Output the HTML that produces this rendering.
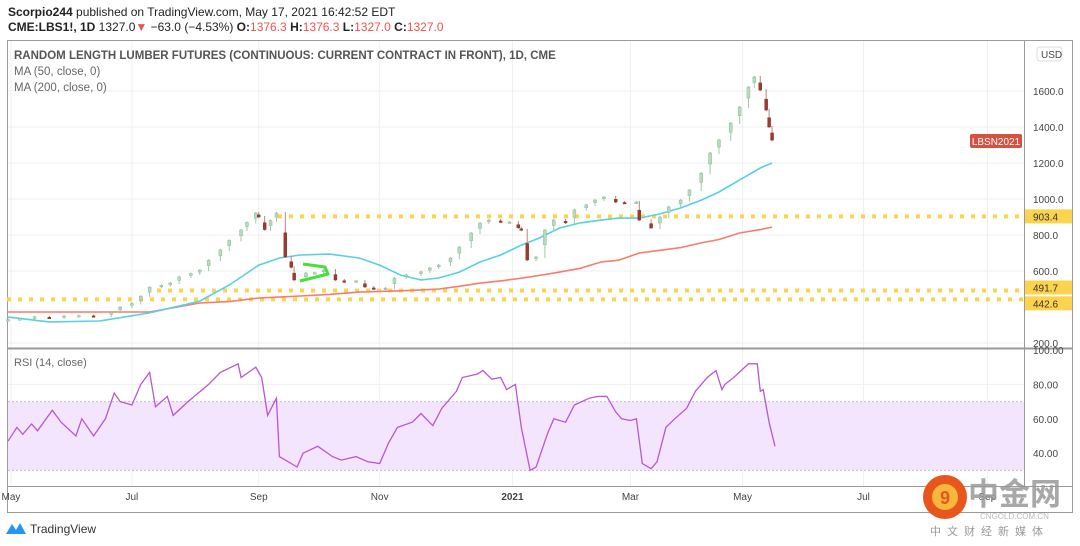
<!DOCTYPE html>
<html><head><meta charset="utf-8"><style>
html,body{margin:0;padding:0;background:#fff;}
svg{display:block;font-family:"Liberation Sans","Noto Sans CJK SC",sans-serif;}
</style></head><body>
<svg id="c" width="1080" height="546" viewBox="0 0 1080 546" xmlns="http://www.w3.org/2000/svg">
<text x="8" y="16" font-size="12" fill="#222"><tspan font-weight="bold">Scorpio244</tspan> published on TradingView.com, May 17, 2021 16:42:52 EDT</text>
<text x="8" y="31" font-size="12" fill="#222"><tspan font-weight="bold">CME:LBS1!, 1D</tspan> 1327.0<tspan fill="#ef5350">▼</tspan> −63.0 (−4.53%) <tspan font-weight="bold">O:</tspan><tspan fill="#ef5350">1376.3</tspan> <tspan font-weight="bold">H:</tspan><tspan fill="#ef5350">1376.3</tspan> <tspan font-weight="bold">L:</tspan><tspan fill="#ef5350">1327.0</tspan> <tspan font-weight="bold">C:</tspan><tspan fill="#ef5350">1327.0</tspan></text>
<rect x="7.5" y="40.5" width="1065" height="472" fill="none" stroke="#9a9a9a"/>
<g id="grid"></g>
<g id="price"></g>
<g id="rsi"></g>
<g id="axes"></g>
<text x="14" y="59" font-size="11.5" font-weight="bold" fill="#555">RANDOM LENGTH LUMBER FUTURES (CONTINUOUS: CURRENT CONTRACT IN FRONT), 1D, CME</text>
<text x="14" y="75" font-size="11.5" fill="#666">MA (50, close, 0)</text>
<text x="14" y="91" font-size="11.5" fill="#666">MA (200, close, 0)</text>
<text x="14" y="366" font-size="11" fill="#666">RSI (14, close)</text>
<g>
<path d="M6 534 L12 524 L16 530 L20 523 L26 534 Z" fill="#2196f3"/>
<text x="30" y="533" font-size="12" fill="#333">TradingView</text>
</g>
<g>
<circle cx="945" cy="497" r="22" fill="#e8561e"/>
<circle cx="945" cy="497" r="13" fill="#f6b73c"/>
<text x="945" y="504" font-size="18" font-weight="bold" fill="#e8561e" text-anchor="middle">9</text>
<text x="968" y="505" font-size="31" font-weight="bold" fill="#9a9a9a" opacity="0.85">中金网</text>
<text x="980" y="519" font-size="8" fill="#bbb">CNGOLD.COM.CN</text>
<text x="930" y="535" font-size="11" fill="#999" letter-spacing="6">中文财经新媒体</text>
</g>
</svg>
<script>
// ---- data ----
var candleDays=[0,4,9,14,19,24,29,35,38,42,45,48,52,55,58,62,65,68,72,75,79,81,84,85,87,89,91,94,96,97,101,104,107,111,114,118,121,124,128,131,135,140,143,146,150,153,157,160,163,167,170,173,174,176,179,182,185,189,192,196,199,202,206,209,213,214,218,221,224,228,231,235,238,241,245,248,251,253,255,257,258,259];
var closes=[330,335,345,340,350,352,350,370,400,420,460,510,520,533,567,585,605,660,717,770,828,870,922,900,830,880,922,678,620,550,589,590,605,550,540,545,511,500,505,561,578,595,617,633,672,733,811,867,883,872,872,840,828,661,678,828,883,867,939,967,994,1011,983,978,983,883,839,900,956,994,1050,1144,1256,1328,1422,1511,1622,1678,1605,1494,1400,1327];
var maDays=[0,14,31,48,65,75,85,92,99,109,119,126,133,140,146,153,160,167,174,180,187,194,201,207,214,221,228,235,241,248,255,259];
var ma50=[344,317,322,367,433,522,633,672,689,694,672,633,578,550,561,594,650,689,744,783,839,867,883,894,894,917,950,994,1039,1106,1172,1200];
var ma200=[372,372,372,372,422,430,450,455,461,470,483,486,490,495,500,515,533,545,560,575,594,615,650,660,700,715,730,756,775,811,830,844];
var rsiDays=[0,3,5,8,10,15,18,23,25,29,33,36,38,42,45,48,50,54,56,61,68,72,78,79,84,86,88,91,92,98,100,105,110,113,118,122,126,129,132,137,140,144,147,152,154,159,161,164,167,169,172,174,177,179,183,185,189,192,197,200,203,206,208,211,213,215,218,220,223,226,230,233,237,240,242,243,246,251,254,255,256,258,260];
var rsiVals=[47,55,51,57,53,65,58,50,60,50,60,75,70,68,80,87,67,73,62,70,80,87,92,84,90,84,62,72,38,32,40,44,38,36,38,35,34,46,55,58,63,56,66,76,84,86,88,83,84,77,80,55,30,32,52,60,58,68,72,73,73,64,60,59,60,34,31,35,55,60,66,76,84,88,77,80,84,92,92,76,77,58,44];
var priceTicks=[1600,1400,1200,1000,800,600,200];
var rsiTicks=[80,60,40];
var monthLabels=["May","Jul","Sep","Nov","2021","Mar","May","Jul","Sep"];
var monthDays=[1,42,85,126,171,211,249,290,332];
var hLines=[903.4,491.7,442.6];
// ---- scales ----
function X(d){return 8+d*2.95;}
function PY(v){return 91+(1600-v)*0.18;}
function RY(v){return 350+(100-v)*1.72;}
var NS="http://www.w3.org/2000/svg";
function mk(tag,attrs,parent){var e=document.createElementNS(NS,tag);for(var k in attrs)e.setAttribute(k,attrs[k]);parent.appendChild(e);return e;}
var grid=document.getElementById('grid'),price=document.getElementById('price'),rsi=document.getElementById('rsi'),axes=document.getElementById('axes');
monthDays.forEach(function(d){var l=mk('line',{x1:X(d),x2:X(d),y1:41,y2:486,stroke:'#efefef'},grid);

});
priceTicks.forEach(function(v){var l=mk('line',{x1:8,x2:1024,y1:PY(v),y2:PY(v),stroke:'#efefef'},grid);

});
rsiTicks.forEach(function(v){var l=mk('line',{x1:8,x2:1024,y1:RY(v),y2:RY(v),stroke:'#efefef'},grid);

});
var s1=mk('line',{x1:8,x2:1073,y1:348.5,y2:348.5,stroke:'#999','stroke-width':2},axes);


var s2=mk('line',{x1:8,x2:1073,y1:486.5,y2:486.5,stroke:'#999'},axes);


var s3=mk('line',{x1:1024.5,x2:1024.5,y1:41,y2:486,stroke:'#999'},axes);


var hStart=[278,157,7];
hLines.forEach(function(v,i){var l=mk('line',{x1:hStart[i],x2:1024,y1:PY(v),y2:PY(v),stroke:'#fcd34d','stroke-width':4,'stroke-dasharray':'4 7'},price);

});
function path(days,vals,yf){return days.map(function(d,i){return (i?'L':'M')+X(d).toFixed(1)+' '+yf(vals[i]).toFixed(1);}).join(' ');}
var m200=mk('path',{d:path(maDays,ma200,PY),fill:'none',stroke:'#f77c6b','stroke-width':1.6},price);


var m50=mk('path',{d:path(maDays,ma50,PY),fill:'none',stroke:'#56d0e4','stroke-width':1.6},price);


closes.forEach(function(c,i){var prev=i?closes[i-1]:c-5;var o=prev+(c-prev)*0.45;var up=c>=o;
var hi=Math.max(prev,c)+6,lo=Math.min(prev,c)-6;
var x=X(candleDays[i]);
var g=mk('g',{},price);


mk('line',{x1:x,x2:x,y1:PY(hi),y2:PY(lo),stroke:up?'#9cc9a6':'#b9837d','stroke-width':1},g);
var top=PY(Math.max(o,c)),h=Math.max(1.5,PY(Math.min(o,c))-top);
mk('rect',{x:x-1.5,y:top,width:3,height:h,fill:up?'#b5dcbd':'#9b3a30',stroke:up?'#7fae8d':'#8b2a20','stroke-width':0.4},g);});
var tri=mk('polyline',{points:'303,264 325,267 328,274 300,281',fill:'none',stroke:'#45e03a','stroke-width':3,'stroke-linejoin':'round'},price);


var band=mk('rect',{x:8,y:RY(70),width:1016,height:RY(30)-RY(70),fill:'#f3e5fd'},rsi);


[70,30].forEach(function(v){var l=mk('line',{x1:8,x2:1024,y1:RY(v),y2:RY(v),stroke:'#c8b8d0','stroke-dasharray':'2 2'},rsi);

});
var rl=mk('path',{d:path(rsiDays,rsiVals,RY),fill:'none',stroke:'#b857d2','stroke-width':1.3},rsi);


priceTicks.forEach(function(v){var t=mk('text',{x:1033,y:PY(v)+4,'font-size':10,fill:'#444'},axes);t.textContent=v.toFixed(1);

});
rsiTicks.forEach(function(v){var t=mk('text',{x:1033,y:RY(v)+4,'font-size':10,fill:'#444'},axes);t.textContent=v.toFixed(2);

});
var t100=mk('text',{x:1033,y:354,'font-size':10,fill:'#444'},axes);t100.textContent='100.00';


var labelShift=[0,-3,4];
hLines.forEach(function(v,i){var g=mk('g',{},axes);


var cy=PY(v)+labelShift[i];
mk('rect',{x:1025,y:cy-7,width:47,height:14,fill:'#fcd34d'},g);
var t=mk('text',{x:1033,y:cy+4,'font-size':10,fill:'#333'},g);t.textContent=v.toFixed(1);});
var usd=mk('g',{},axes);


mk('rect',{x:1037,y:47,width:25,height:14,rx:3,fill:'#fff',stroke:'#ddd'},usd);
var ut=mk('text',{x:1041,y:58,'font-size':10,fill:'#444'},usd);ut.textContent='USD';
var lb=mk('g',{},axes);


mk('rect',{x:970,y:134,width:52,height:14,rx:2,fill:'#d9503f'},lb);
var lt=mk('text',{x:996,y:145,'font-size':10,fill:'#fff','text-anchor':'middle'},lb);lt.textContent='LBSN2021';
monthLabels.forEach(function(m,i){var t=mk('text',{x:X(monthDays[i]),y:500,'font-size':10,fill:'#444','text-anchor':'middle','font-weight':m==='2021'?'bold':'normal'},axes);t.textContent=m;

});
</script>
</body></html>
